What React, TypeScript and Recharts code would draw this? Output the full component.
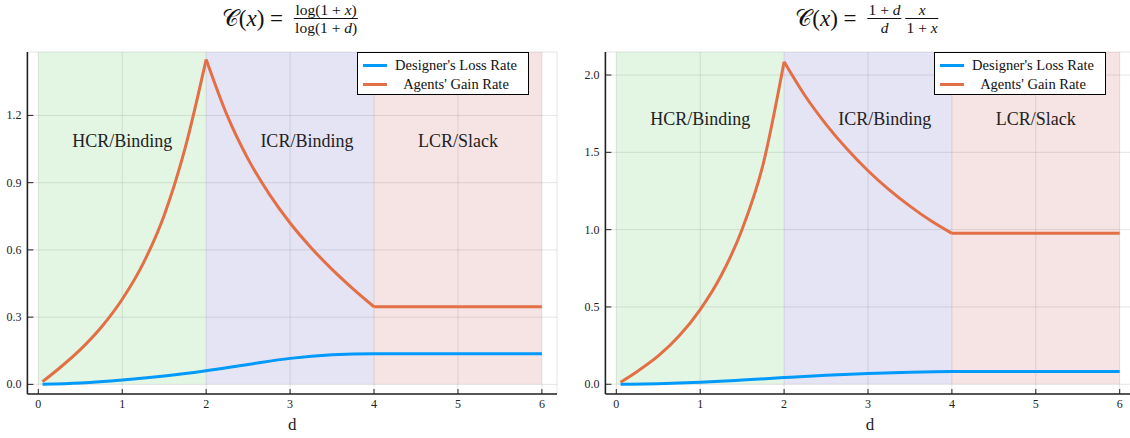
import React from 'react';
import {
  LineChart, Line, XAxis, YAxis, CartesianGrid,
  ReferenceArea, ReferenceDot, Legend,
} from 'recharts';

// ─── Data ────────────────────────────────────────────────────────────────────

const X_TICKS = [0, 1, 2, 3, 4, 5, 6];

// d samples for each piece of the curves
const D_RISE = [0.05, 0.25, 0.5, 0.75, 1, 1.25, 1.5, 1.75, 2];
const D_FALL = [2, 2.25, 2.5, 2.75, 3, 3.25, 3.5, 3.75, 4];
const D_FLAT = [4, 5, 6];
const D_LOSS = [0.05, 0.5, 1, 1.5, 2, 2.5, 3, 3.5, 4, 5, 6];

// left panel: C(x) = log(1+x)/log(1+d)
const LOG_GAIN_RISE = [0.012, 0.072, 0.155, 0.255, 0.38, 0.54, 0.755, 1.055, 1.45];
const LOG_GAIN_FALL = [1.45, 1.2, 1.005, 0.85, 0.72, 0.61, 0.513, 0.426, 0.346];
const LOG_GAIN_FLAT = [0.346, 0.346, 0.346];
const LOG_LOSS = [0, 0.006, 0.019, 0.037, 0.061, 0.089, 0.116, 0.132, 0.137, 0.137, 0.137];
const LOG_Y_TICKS = [0, 0.3, 0.6, 0.9, 1.2];

// right panel: C(x) = (1+d)/d · x/(1+x)
const RAT_GAIN_RISE = [0.013, 0.083, 0.183, 0.313, 0.483, 0.703, 1.003, 1.423, 2.086];
const RAT_GAIN_FALL = [2.086, 1.866, 1.681, 1.521, 1.381, 1.259, 1.152, 1.057, 0.976];
const RAT_GAIN_FLAT = [0.976, 0.976, 0.976];
const RAT_LOSS = [0, 0.004, 0.013, 0.027, 0.043, 0.058, 0.07, 0.078, 0.082, 0.082, 0.082];
const RAT_Y_TICKS = [0, 0.5, 1, 1.5, 2];

const REGION_BOUNDS = [[0, 2], [2, 4], [4, 6]];
const REGION_LABELS = ['HCR/Binding', 'ICR/Binding', 'LCR/Slack'];
const REGION_LABEL_D = [1, 3.2, 5];

const SERIES_NAMES = ["Designer's Loss Rate", "Agents' Gain Rate"];

// ─── Styles ──────────────────────────────────────────────────────────────────

const FONT = '"Liberation Serif", "DejaVu Serif", serif';
const BLUE = 'rgb(0,154,250)';
const ORANGE = 'rgb(227,111,70)';
const REGION_FILLS = ['rgb(0,160,0)', 'rgb(40,30,170)', 'rgb(180,30,40)'];
const REGION_OPACITY = [0.11, 0.12, 0.12];

const CHART_H = 438;
const PLOT_TOP = 52;
const X_AXIS_H = 44;
const PLOT_BOTTOM = CHART_H - X_AXIS_H;
const X_DOMAIN: [number, number] = [-0.13, 6.18];

const zip = (xs: number[], ys: number[]) => xs.map((d, i) => ({ d, v: ys[i] }));

function makeXTick(fmt: (v: number) => string) {
  return (props: any) => {
    const { x, payload } = props;
    return (
      <g>
        <line x1={x} x2={x} y1={PLOT_BOTTOM} y2={PLOT_BOTTOM - 5} stroke="#222" strokeWidth={1} />
        <text x={x} y={PLOT_BOTTOM + 14} textAnchor="middle" fontSize={12} fontFamily={FONT} fill="#222">
          {fmt(payload.value)}
        </text>
      </g>
    );
  };
}

function makeYTick(axisX: number) {
  return (props: any) => {
    const { y, payload } = props;
    return (
      <g>
        <line x1={axisX} x2={axisX + 6} y1={y} y2={y} stroke="#222" strokeWidth={1} />
        <text x={axisX - 6} y={y + 4} textAnchor="end" fontSize={12} fontFamily={FONT} fill="#222">
          {Number(payload.value).toFixed(1)}
        </text>
      </g>
    );
  };
}

function LegendBox() {
  const colors = [BLUE, ORANGE];
  return (
    <div style={{
      position: 'relative', width: 172, height: 43, boxSizing: 'border-box',
      border: '1.3px solid #000', background: '#fff', fontFamily: FONT, fontSize: 14.5, color: '#111',
    }}>
      {SERIES_NAMES.map((name, i) => (
        <div key={name} style={{ position: 'absolute', left: 0, top: 2 + i * 19.7, height: 20, width: 170, display: 'flex', alignItems: 'center' }}>
          <div style={{ marginLeft: 5, width: 24, height: 3, background: colors[i] }} />
          <div style={{ flex: 1, textAlign: 'center', whiteSpace: 'nowrap', paddingRight: 3 }}>{name}</div>
        </div>
      ))}
    </div>
  );
}

interface PanelProps {
  left: number;
  width: number;
  yAxisW: number;
  rightMargin: number;
  yTicks: number[];
  yMax: number;
  yMin: number;
  rise: number[];
  fall: number[];
  flat: number[];
  loss: number[];
  labelY: number;
  legendLeft: number;
  title: React.ReactNode;
  titleCenter: number;
}

function Panel(p: PanelProps) {
  const axisX = p.yAxisW;
  return (
    <div style={{ position: 'absolute', left: p.left, top: 0, width: p.width, height: CHART_H }}>
      <LineChart width={p.width} height={CHART_H} margin={{ top: PLOT_TOP, right: p.rightMargin, bottom: 0, left: 0 }}>
        <CartesianGrid stroke="rgba(0,0,0,0.1)" strokeWidth={1} />
        {REGION_BOUNDS.map(([x1, x2], i) => (
          <ReferenceArea key={i} x1={x1} x2={x2} y1={0} y2={p.yMax}
            fill={REGION_FILLS[i]} fillOpacity={REGION_OPACITY[i]} stroke="none" ifOverflow="visible" />
        ))}
        <XAxis type="number" dataKey="d" domain={X_DOMAIN} ticks={X_TICKS} allowDataOverflow
          height={X_AXIS_H} axisLine={{ stroke: '#222', strokeWidth: 1.6 }} tickLine={false}
          tick={makeXTick(v => String(v))} interval={0}
          label={{ value: 'd', position: 'insideBottom', offset: 8, fontSize: 17, fontFamily: FONT, fill: '#222' }} />
        <YAxis type="number" domain={[p.yMin, p.yMax]} ticks={p.yTicks} allowDataOverflow
          width={p.yAxisW} axisLine={{ stroke: '#222', strokeWidth: 1.6 }} tickLine={false}
          tick={makeYTick(axisX)} interval={0} />
        {REGION_LABELS.map((t, i) => (
          <ReferenceDot key={t} x={REGION_LABEL_D[i]} y={p.labelY} r={0} fill="none" stroke="none"
            label={{ value: t, position: 'center', fontSize: 18, fontFamily: FONT, fill: '#222' }} />
        ))}
        <Line data={zip(D_LOSS, p.loss)} dataKey="v" type="monotone" stroke={BLUE} strokeWidth={3}
          dot={false} isAnimationActive={false} name={SERIES_NAMES[0]} />
        <Line data={zip(D_RISE, p.rise)} dataKey="v" type="monotone" stroke={ORANGE} strokeWidth={3}
          dot={false} isAnimationActive={false} name={SERIES_NAMES[1]} />
        <Line data={zip(D_FALL, p.fall)} dataKey="v" type="monotone" stroke={ORANGE} strokeWidth={3}
          dot={false} isAnimationActive={false} legendType="none" />
        <Line data={zip(D_FLAT, p.flat)} dataKey="v" type="linear" stroke={ORANGE} strokeWidth={3}
          dot={false} isAnimationActive={false} legendType="none" />
        <Legend layout="horizontal" verticalAlign="middle" content={() => <LegendBox />}
          wrapperStyle={{ left: p.legendLeft, top: PLOT_TOP, width: 'auto', height: 'auto' }} />
      </LineChart>
      <div style={{
        position: 'absolute', top: 1, left: p.titleCenter, transform: 'translateX(-50%)',
        fontFamily: FONT, color: '#111', whiteSpace: 'nowrap', display: 'flex', alignItems: 'center',
      }}>
        {p.title}
      </div>
    </div>
  );
}

function Frac({ num, den }: { num: React.ReactNode; den: React.ReactNode }) {
  return (
    <span style={{ display: 'inline-flex', flexDirection: 'column', alignItems: 'center', fontSize: 15.5, lineHeight: '17px', margin: '0 2px' }}>
      <span style={{ padding: '0 1px' }}>{num}</span>
      <span style={{ borderTop: '1px solid #111', padding: '0 1px', alignSelf: 'stretch', textAlign: 'center' }}>{den}</span>
    </span>
  );
}

const I = ({ children }: { children: React.ReactNode }) => <i>{children}</i>;

function CLhs() {
  return (
    <span style={{ fontSize: 23, marginRight: 9 }}>
      𝒞(<I>x</I>) =
    </span>
  );
}

export default function App() {
  return (
    <div style={{ position: 'absolute', left: 0, top: 0, width: 1130, height: 438, overflow: 'hidden', background: '#fff' }}>
      <Panel left={0} width={560} yAxisW={27.4} rightMargin={3}
        yTicks={LOG_Y_TICKS} yMin={-0.043} yMax={1.483}
        rise={LOG_GAIN_RISE} fall={LOG_GAIN_FALL} flat={LOG_GAIN_FLAT} loss={LOG_LOSS}
        labelY={1.086} legendLeft={357} titleCenter={291}
        title={<><CLhs /><Frac num={<>log(1 + <I>x</I>)</>} den={<>log(1 + <I>d</I>)</>} /></>} />
      <Panel left={570} width={570} yAxisW={35.4} rightMargin={5.2}
        yTicks={RAT_Y_TICKS} yMin={-0.063} yMax={2.149}
        rise={RAT_GAIN_RISE} fall={RAT_GAIN_FALL} flat={RAT_GAIN_FLAT} loss={RAT_LOSS}
        labelY={1.72} legendLeft={364} titleCenter={298}
        title={<><CLhs /><Frac num={<>1 + <I>d</I></>} den={<I>d</I>} /><Frac num={<I>x</I>} den={<>1 + <I>x</I></>} /></>} />
    </div>
  );
}
